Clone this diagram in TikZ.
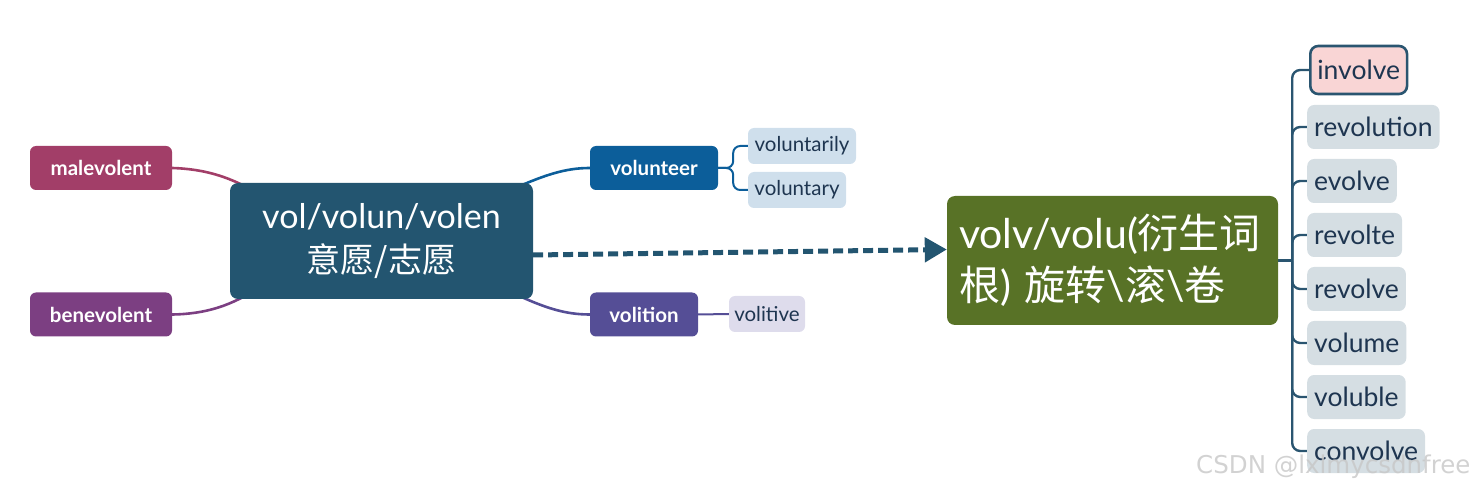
\documentclass[tikz,border=0pt]{standalone}
\usepackage{fontspec}
\setmainfont{Lato}
\newfontfamily\cjk{Noto Sans CJK SC}
\newfontfamily\wmfont{DejaVu Sans}
\usetikzlibrary{arrows.meta,backgrounds}
\definecolor{cMal}{HTML}{A23E68}
\definecolor{cBen}{HTML}{7C3F82}
\definecolor{cMain}{HTML}{235570}
\definecolor{cVolT}{HTML}{0C5E9A}
\definecolor{cVolI}{HTML}{554E96}
\definecolor{cLtB}{HTML}{CFDFEC}
\definecolor{cLtP}{HTML}{DEDCEC}
\definecolor{cTxt}{HTML}{1E3550}
\definecolor{cGreen}{HTML}{587226}
\definecolor{cList}{HTML}{D5DEE3}
\definecolor{cPink}{HTML}{F9D5D5}
\definecolor{cTree}{HTML}{2A5570}
\tikzset{
  lbox/.style={rounded corners=6pt, text=white, inner sep=0pt,
    font=\fontsize{20.5}{22}\selectfont\bfseries, minimum height=44pt},
  sbox/.style={rounded corners=6pt, text=cTxt, inner sep=0pt,
    font=\fontsize{20.5}{22}\selectfont, minimum height=36pt},
  rbox/.style={rounded corners=7pt, text=cTxt, inner xsep=7pt, inner ysep=0pt, fill=cList,
    font=\fontsize{26.5}{28}\selectfont, minimum height=44pt, anchor=west},
  conn/.style={line width=2.6pt},
  tree/.style={line width=2.4pt, draw=cTree, rounded corners=8pt}
}
\begin{document}
\begin{tikzpicture}[x=1pt,y=-1pt]
\useasboundingbox (0,0) rectangle (1478,494);
% left / main
\node[lbox, fill=cMal, minimum width=142pt] (mal) at (101,168) {malevolent};
\node[lbox, fill=cBen, minimum width=142pt] (ben) at (101,314.5) {benevolent};
\node[rounded corners=8pt, fill=cMain, text=white, minimum width=303pt, minimum height=116pt, inner sep=0pt, align=center,
  font=\fontsize{34}{44}\selectfont] (main) at (381.5,241)
  {vol/volun/volen\\{\cjk 意愿/志愿}};
\node[lbox, fill=cVolT, minimum width=128pt] (volt) at (654,168) {volunteer};
\node[lbox, fill=cVolI, minimum width=108pt] (voli) at (644,314.5) {volition};
\node[sbox, fill=cLtB, minimum width=108pt] (vrly) at (802,146) {voluntarily};
\node[sbox, fill=cLtB, minimum width=98pt] (vry) at (797,190) {voluntary};
\node[sbox, fill=cLtP, minimum width=76pt] (vtive) at (767,314) {volitive};
% green node
\node[rounded corners=8pt, fill=cGreen, text=white, minimum width=331pt, minimum height=129pt,
  text width=307pt, inner xsep=12pt, inner ysep=0pt,
  align=left, font=\fontsize{41}{52}\selectfont] (green) at (1112.5,260.5)
  {volv/volu({\cjk 衍生词}\\{\cjk 根}) {\cjk 旋转}\textbackslash{\cjk 滚}\textbackslash{\cjk 卷}};
% right list
\node[rbox, fill=cPink, draw=cTree, line width=2.6pt, rounded corners=8pt, minimum height=48pt] (c1) at (1309,70) {involve};
\node[rbox] (c2) at (1307,127) {revolution};
\node[rbox] (c3) at (1307,181) {evolve};
\node[rbox] (c4) at (1307,235) {revolte};
\node[rbox] (c5) at (1307,289) {revolve};
\node[rbox] (c6) at (1307,343) {volume};
\node[rbox] (c7) at (1307,397) {voluble};
\node[rbox] (c8) at (1307,451) {convolve};
\begin{pgfonlayer}{background}
  \draw[conn, draw=cMal] (mal.east) .. controls (205,169) and (228,177) .. ([xshift=20pt,yshift=-6pt]main.north west);
  \draw[conn, draw=cBen] (ben.east) .. controls (205,314) and (228,306) .. ([xshift=20pt,yshift=6pt]main.south west);
  \draw[conn, draw=cVolT] ([xshift=-20pt,yshift=-6pt]main.north east) .. controls (545,175) and (565,168) .. (volt.west);
  \draw[conn, draw=cVolI] ([xshift=-20pt,yshift=6pt]main.south east) .. controls (545,308) and (565,314.5) .. (voli.west);
  \coordinate (vb) at ([xshift=15pt]volt.east);
  \draw[line width=2pt, draw=cVolT, rounded corners=7pt] (volt.east) -- (vb) |- (vrly.west);
  \draw[line width=2pt, draw=cVolT, rounded corners=7pt] (volt.east) -- (vb) |- (vry.west);
  \draw[line width=2pt, draw=cVolI] (voli.east) -- (vtive.west);
  \coordinate (tb) at ([xshift=14pt]green.east);
  \draw[tree] (green.east) -- (tb);
  \foreach \c in {c1,c2,c3,c4,c5,c6,c7,c8}{
    \draw[tree] (tb) |- (\c.west);
  }
\end{pgfonlayer}
\draw[draw=cMain, line width=5pt, dash pattern=on 10pt off 5pt,
  -{Triangle[length=22pt,width=24pt,fill=cMain]}]
  ([yshift=-14pt]main.east) -- ([yshift=11pt]green.west);
\node[text=black!22, opacity=0.8, font=\wmfont\fontsize{24.5}{26}\selectfont, anchor=east] (wm) at (1474,467) {CSDN @lxlmycsdnfree};
\end{tikzpicture}
\end{document}
